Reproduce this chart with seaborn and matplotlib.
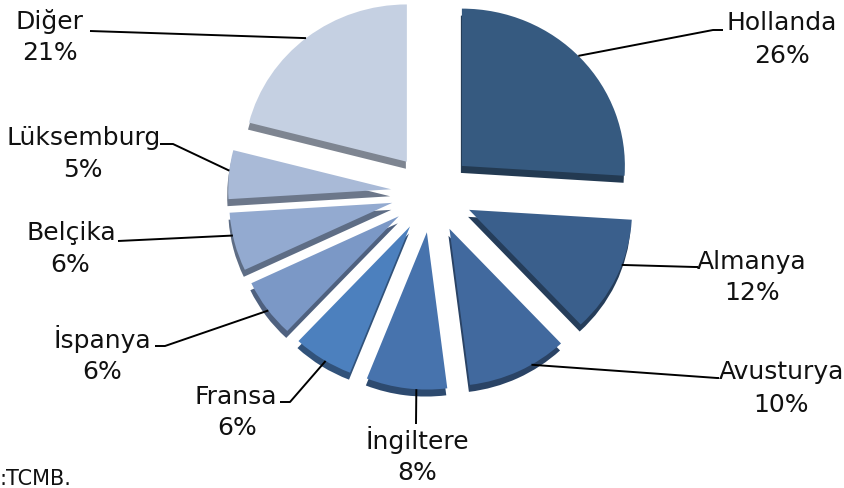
import numpy as np
import matplotlib
matplotlib.use('Agg')
import matplotlib.pyplot as plt
import seaborn as sns

# Data: share of foreign direct investment by country (%)
countries = ['Hollanda', 'Almanya', 'Avusturya', 'İngiltere', 'Fransa',
             'İspanya', 'Belçika', 'Lüksemburg', 'Diğer']
shares = [26, 12, 10, 8, 6, 6, 6, 5, 21]
pct_labels = ['26%', '12%', '10%', '8%', '6%', '6%', '6%', '5%', '21%']
source_note = ':TCMB.'

sns.set_theme(style='white')
plt.rcParams['font.family'] = ['DejaVu Sans']

colors = ['#365a80', '#3a5f8c', '#41699e', '#4773ad', '#4c80be',
          '#7b98c6', '#93aad0', '#a9bad7', '#c5d0e2']
side_colors = [tuple(c * 0.64 for c in matplotlib.colors.to_rgb(h)) for h in colors]

W, H = 844, 489
SQ = 0.965  # slight vertical squash of the tilted pie
fig = plt.figure(figsize=(W / 100, H / 100), dpi=100)
ax = fig.add_axes([0, 0, 1, 1])


def px(x, y):
    # image pixel coords -> axes data coords (y up, squashed)
    return x, (H - y) / SQ


cx, cy = px(432, 194)
R = 163
# matplotlib offsets exploded wedges in data units
explode = [41] * len(shares)

# thickness of the slices (drawn first, shifted down)
ax.pie(shares, explode=explode, startangle=90, counterclock=False,
       colors=side_colors, center=(cx - 1, cy - 7 / SQ), radius=R,
       wedgeprops=dict(linewidth=0))
wedges, _ = ax.pie(shares, explode=explode, startangle=90, counterclock=False,
                   colors=colors, center=(cx, cy), radius=R,
                   wedgeprops=dict(linewidth=0))

# label layout (image pixel coords): elbow, line end, name centre, pct centre
angle_shift = [1.2, 4.7, 5, 3.5, 1.2, 0.8, -2.4, -1.4, 0.4]
elbows = [(713, 31), (695, 268), (717, 379), (416, 425), (290, 403),
          (165, 347), (118, 242), (173, 145), (90, 32)]
ends = [(723, 31), (698, 268), (719, 379), (416, 425), (280, 403),
        (155, 347), (118, 242), (160, 145), (90, 32)]
name_pos = [(782, 23), (752, 262), (781, 372), (417, 440), (236, 397),
            (102, 339), (71, 233), (84, 138), (50, 22)]
pct_pos = [(782, 56), (752, 293), (781, 405), (417, 473), (237, 428),
           (102, 372), (70, 265), (83, 170), (50, 53)]

for i, w in enumerate(wedges):
    a = np.deg2rad((w.theta1 + w.theta2) / 2 + angle_shift[i])
    sx = w.center[0] + w.r * np.cos(a)
    sy = w.center[1] + w.r * np.sin(a)
    ex, ey = px(*elbows[i])
    tx, ty = px(*ends[i])
    ax.plot([sx, ex, tx], [sy, ey, ty], color='black', lw=1.4,
            solid_capstyle='butt', zorder=3)
    ax.text(*px(*name_pos[i]), countries[i], ha='center', va='center',
            fontsize=18, color='#111111')
    ax.text(*px(*pct_pos[i]), pct_labels[i], ha='center', va='center',
            fontsize=18, color='#111111')

ax.text(*px(-1, 479), source_note, ha='left', va='center', fontsize=15,
        color='#111111')

ax.set_xlim(0, W)
ax.set_ylim(0, H / SQ)
ax.set_aspect('auto')
ax.axis('off')

fig.savefig('out.png', dpi=100, facecolor='white')
